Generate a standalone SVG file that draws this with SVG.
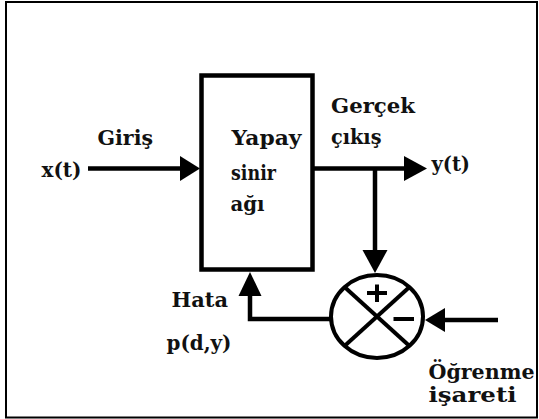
<svg xmlns="http://www.w3.org/2000/svg" width="539" height="419" viewBox="0 0 539 419">
  <style>
    .frame { fill: none; stroke: #000; stroke-width: 2; }
    .block { fill: #fff; stroke: #000; stroke-width: 4.5; }
    .sum { fill: #fff; stroke: #000; stroke-width: 4; }
    .mark { stroke: #000; stroke-width: 4; fill: none; }
    .wire { fill: none; stroke: #000; stroke-width: 4.5; stroke-linejoin: miter; }
    .head { fill: #000; stroke: none; }
    .lbl { font-family: "DejaVu Serif", "Liberation Serif", serif; font-weight: bold; font-size: 21px; fill: #111; }
  </style>

  <rect x="0" y="0" width="539" height="419" fill="#fff"/>
  <!-- outer frame -->
  <rect class="frame" x="6" y="2" width="531" height="415.5"/>

  <!-- signal lines and arrowheads -->
  <g id="connectors">
    <!-- input x(t) into the network -->
    <line class="wire" x1="88" y1="168.5" x2="182" y2="168.5"/>
    <polygon class="head" points="180,156 200,168.5 180,181"/>
    <!-- network output y(t) -->
    <line class="wire" x1="312" y1="168.5" x2="406" y2="168.5"/>
    <polygon class="head" points="404,156 427,168.5 404,181"/>
    <!-- branch down to the comparator -->
    <line class="wire" x1="375" y1="168.5" x2="375" y2="252"/>
    <polygon class="head" points="362.5,250 375,273 387.5,250"/>
    <!-- error feedback to the network -->
    <polyline class="wire" points="331,319 250,319 250,294"/>
    <polygon class="head" points="238.5,296 250,272 261.5,296"/>
    <!-- desired (training) signal -->
    <line class="wire" x1="498" y1="320" x2="443" y2="320"/>
    <polygon class="head" points="445,308 425,320 445,332"/>
  </g>

  <!-- neural network block -->
  <g id="network">
    <rect class="block" x="201.5" y="75.5" width="111" height="194"/>
    <text class="lbl" x="231.5" y="145" textLength="70" lengthAdjust="spacingAndGlyphs">Yapay</text>
    <text class="lbl" x="231" y="180" textLength="45" lengthAdjust="spacingAndGlyphs">sinir</text>
    <text class="lbl" x="230.5" y="211" textLength="34" lengthAdjust="spacingAndGlyphs">ağı</text>
  </g>

  <!-- comparator -->
  <g id="comparator">
    <ellipse class="sum" cx="377" cy="316.5" rx="46" ry="41.5"/>
    <line class="mark" x1="344.5" y1="287" x2="409.5" y2="346"/>
    <line class="mark" x1="409.5" y1="287" x2="344.5" y2="346"/>
    <!-- plus -->
    <line class="mark" x1="367" y1="293" x2="387" y2="293"/>
    <line class="mark" x1="377" y1="284.5" x2="377" y2="302"/>
    <!-- minus -->
    <line class="mark" x1="393.5" y1="319" x2="414" y2="319" stroke-width="4.5"/>
  </g>

  <!-- labels -->
  <g id="input-label">
    <text class="lbl" x="97.5" y="145" textLength="55.5" lengthAdjust="spacingAndGlyphs">Giriş</text>
    <text class="lbl" x="41.5" y="176.5" textLength="40" lengthAdjust="spacingAndGlyphs">x(t)</text>
  </g>
  <g id="output-label">
    <text class="lbl" x="331" y="113" textLength="84" lengthAdjust="spacingAndGlyphs">Gerçek</text>
    <text class="lbl" x="331" y="143.5" textLength="50.5" lengthAdjust="spacingAndGlyphs">çıkış</text>
    <text class="lbl" x="431.5" y="171" textLength="38.5" lengthAdjust="spacingAndGlyphs">y(t)</text>
  </g>
  <g id="error-label">
    <text class="lbl" x="171.5" y="307" textLength="56.5" lengthAdjust="spacingAndGlyphs">Hata</text>
    <text class="lbl" x="166.5" y="350" textLength="65" lengthAdjust="spacingAndGlyphs">p(d,y)</text>
  </g>
  <g id="target-label">
    <text class="lbl" x="428.5" y="378.5" textLength="106" lengthAdjust="spacingAndGlyphs">Öğrenme</text>
    <text class="lbl" x="428.5" y="401.5" textLength="88" lengthAdjust="spacingAndGlyphs">işareti</text>
  </g>
</svg>
